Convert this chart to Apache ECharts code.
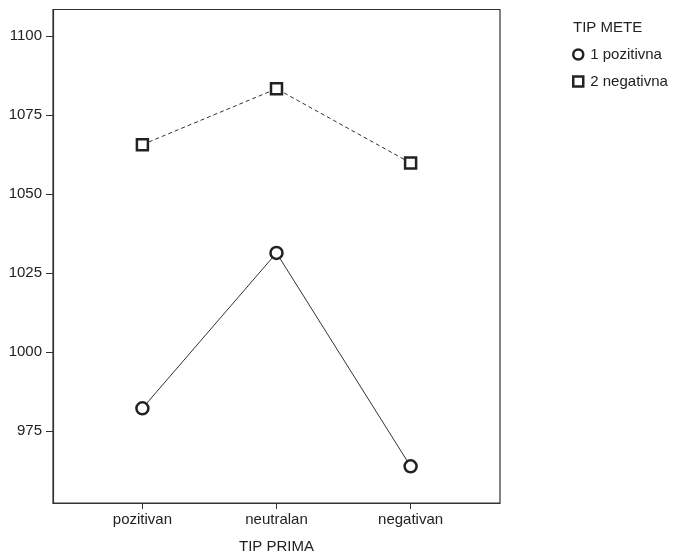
<!DOCTYPE html>
<html><head><meta charset="utf-8">
<script src="https://cdn.jsdelivr.net/npm/echarts@6/dist/echarts.min.js"></script>
<style>html,body{margin:0;padding:0;background:#fff}#c{width:678px;height:559px}</style>
</head><body><div id="c"></div>
<script>
var categories = ['pozitivan', 'neutralan', 'negativan'];
var seriesNames = ['1 pozitivna', '2 negativna'];
var pozitivnaValues = [982.2, 1031.4, 963.8];
var negativnaValues = [1065.7, 1083.4, 1059.9];
var yTicks = [975, 1000, 1025, 1050, 1075, 1100];

function toPts(vals){ return vals.map(function(v,i){ return [i+1, v]; }); }
var font = 'Liberation Sans, Arial, sans-serif';
var ink = '#222';
var fs = 15;
var chart = echarts.init(document.getElementById('c'));
chart.setOption({
  animation: false,
  backgroundColor: '#fff',
  title: { text: 'TIP METE', left: 568, top: 15, textStyle: { fontFamily: font, fontSize: fs, fontWeight: 'normal', color: ink } },
  legend: {
    orient: 'vertical', left: 567, top: 41, itemGap: 10, itemWidth: 10, itemHeight: 10,
    textStyle: { fontFamily: font, fontSize: fs, color: ink, lineHeight: 17, padding: [0,0,0,2] },
    data: [
      { name: seriesNames[0], icon: 'circle', itemStyle: { color: '#fff', borderColor: ink, borderWidth: 2.5 } },
      { name: seriesNames[1], icon: 'rect', itemStyle: { color: '#fff', borderColor: ink, borderWidth: 2.5 } }
    ]
  },
  grid: { left: 53, right: 178, top: 9.5, bottom: 54, show: true, borderColor: '#333', borderWidth: 1.2, backgroundColor: 'transparent' },
  xAxis: {
    type: 'value', min: 1/3, max: 11/3,
    name: 'TIP PRIMA', nameLocation: 'middle', nameGap: 36,
    nameTextStyle: { fontFamily: font, fontSize: fs, color: ink },
    axisLine: { show: true, lineStyle: { color: '#333', width: 1.2 } },
    axisTick: { show: true, customValues: [1,2,3], length: 6, lineStyle: { color: '#333' } },
    axisLabel: { customValues: [1,2,3], fontFamily: font, fontSize: fs, color: ink, margin: 9,
      formatter: function(v){ return categories[Math.round(v)-1] || ''; } },
    splitLine: { show: false }
  },
  yAxis: {
    type: 'value', min: 952.2, max: 1108.5,
    axisLine: { show: true, lineStyle: { color: '#333', width: 1.2 } },
    axisTick: { show: true, customValues: yTicks, length: 7, lineStyle: { color: '#333' } },
    axisLabel: { customValues: yTicks, fontFamily: font, fontSize: fs, color: ink, margin: 11,
      formatter: function(v){ return String(v); } },
    splitLine: { show: false }
  },
  series: [
    { name: seriesNames[0], type: 'line', data: toPts(pozitivnaValues), symbol: 'circle', symbolSize: 12,
      itemStyle: { color: '#fff', borderColor: ink, borderWidth: 2.5 },
      lineStyle: { color: '#333', width: 1 } },
    { name: seriesNames[1], type: 'line', data: toPts(negativnaValues), symbol: 'rect', symbolSize: 11,
      itemStyle: { color: '#fff', borderColor: ink, borderWidth: 2.5 },
      lineStyle: { color: '#333', width: 1, type: [4,3] } }
  ]
});
</script></body></html>
